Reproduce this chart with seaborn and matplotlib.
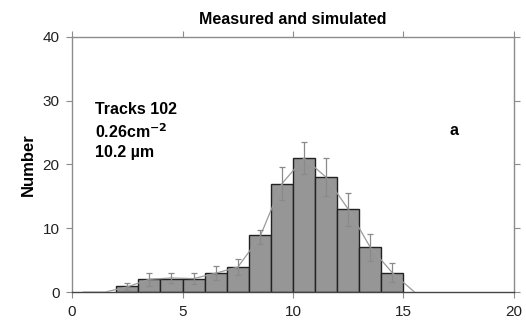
import numpy as np
import pandas as pd
import matplotlib
matplotlib.use("Agg")
import matplotlib.pyplot as plt
import seaborn as sns

# Measured histogram (bin centers and counts)
bin_centers = [2.5, 3.5, 4.5, 5.5, 6.5, 7.5, 8.5, 9.5, 10.5, 11.5, 12.5, 13.5, 14.5]
measured = [1, 2, 2, 2, 3, 4, 9, 17, 21, 18, 13, 7, 3]
# Simulated curve
sim_x = [0.5, 1.5, 2.5, 3.5, 4.5, 5.5, 6.5, 7.5, 8.5, 9.5, 10.5, 11.5, 12.5, 13.5, 14.5, 15.5]
sim_y = [0, 0, 0.8, 2.0, 2.2, 2.1, 2.95, 3.9, 8.6, 17.0, 21.0, 18.0, 13.0, 7.0, 3.0, 0]
sim_err = [0, 0, 0.55, 1.0, 0.8, 0.9, 1.1, 1.2, 1.05, 2.6, 2.5, 3.0, 2.6, 2.15, 1.5, 0]
bin_edges = list(range(2, 16))
x_ticks = [0, 5, 10, 15, 20]
y_ticks = [0, 10, 20, 30, 40]

sns.set_theme(style="white")
plt.rcParams['font.family'] = ['Liberation Sans', 'DejaVu Sans']

fig = plt.figure(figsize=(5.26, 3.27), dpi=100)
ax = fig.add_axes([0.137, 0.107, 0.840, 0.780])

df = pd.DataFrame({"length": bin_centers, "count": measured})
sns.histplot(data=df, x="length", weights="count", bins=bin_edges, ax=ax,
             color="#969696", edgecolor="#222222", linewidth=1.0, alpha=1.0, zorder=2)

sim = pd.DataFrame({"x": sim_x, "y": sim_y})
sns.lineplot(data=sim, x="x", y="y", ax=ax, color="#9a9a9a", linewidth=0.9, zorder=3)
mask = np.array(sim_err) > 0
ax.errorbar(np.array(sim_x)[mask], np.array(sim_y)[mask], yerr=np.array(sim_err)[mask],
            fmt="none", ecolor="#8a8a8a", elinewidth=0.9, capsize=2.5, capthick=0.9, zorder=4)

ax.set_xlim(0, 20)
ax.set_ylim(0, 40)
ax.set_xticks(x_ticks)
ax.set_yticks(y_ticks)
ax.set_xlabel("")
ax.set_ylabel("Number", fontsize=12, fontweight="bold", labelpad=5, color="black")
ax.set_title("Measured and simulated", fontsize=11.5, fontweight="bold", pad=9, color="black")

for s in ax.spines.values():
    s.set_color("#8c8c8c")
    s.set_linewidth(1.0)
ax.spines['bottom'].set_color("#444444")
ax.tick_params(axis="both", which="both", direction="out", length=4, width=0.8,
               color="#8c8c8c", labelsize=11, labelcolor="#222222",
               top=True, right=True, bottom=True, left=True, pad=5)

kw = dict(transform=ax.transAxes, fontsize=11.5, fontweight="bold", va="center", color="black")
ax.text(0.052, 0.714, "Tracks 102", **kw)
ax.text(0.052, 0.630, "0.26cm$^{\\mathbf{-2}}$", **kw)
ax.text(0.052, 0.548, "10.2 µm", **kw)
ax.text(0.855, 0.635, "a", **kw)

fig.savefig("out.png", dpi=100)
